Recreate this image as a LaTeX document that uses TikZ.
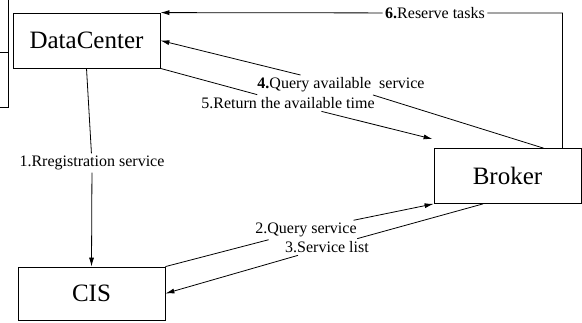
\documentclass[tikz,border=0pt]{standalone}
\usepackage{fontspec}
\setmainfont{Liberation Serif}
\usetikzlibrary{arrows.meta}

\begin{document}
\begin{tikzpicture}[x=1pt, y=-1pt,
    box/.style={draw, line width=0.8pt, minimum width=147pt, inner sep=0pt, font=\fontsize{25}{30}\selectfont},
    lbl/.style={inner sep=2.5pt, font=\fontsize{16}{19}\selectfont},
    arr/.style={line width=0.8pt, -{Latex[length=9pt, width=5pt]}}]
    \useasboundingbox (0,0) rectangle (582,323);

    % Cut-off frame on the left
    \draw[line width=0.8pt] (8,0) -- (8,107) -- (0,107);
    \draw[line width=0.8pt] (0,52) -- (8,52);

    % Boxes
    \node[box, minimum height=55pt] (dc) at (86.5,40.5) {DataCenter};
    \node[box, minimum height=53pt] (cis) at (91.5,293.5) {CIS};
    \node[box, minimum height=55pt] (broker) at (507.5,176) {Broker};

    % Labels on the connectors
    \node[lbl] (reg) at (92,163) {1.Rregistration service};
    \node[lbl] (qs) at (306,230) {2.Query service};
    \node[lbl] (sl) at (327,247) {3.Service list};
    \node[lbl] (qa) at (341,85) {\textbf{4.}Query available~ service};
    \node[lbl] (rt) at (288,103) {5.Return the available time};
    \node[lbl] (rs) at (435,13) {\textbf{6.}Reserve tasks};

    % Connectors
    \draw[arr] (dc.south) -- (reg) -- (cis.north);
    \draw[arr] (cis.north east) -- (qs) -- (broker.south west);
    \draw[arr] ([xshift=-24.5pt]broker.south) -- (sl) -- (cis.east);
    \draw[arr] ([xshift=-38pt]broker.north east) -- (qa) -- (dc.east);
    \draw[arr] (dc.south east) -- (rt) -- ([shift={(-1pt,9pt)}]broker.north west);
    \draw[arr] ([xshift=-19pt]broker.north east) |- (rs) -- (dc.north east);
\end{tikzpicture}
\end{document}
